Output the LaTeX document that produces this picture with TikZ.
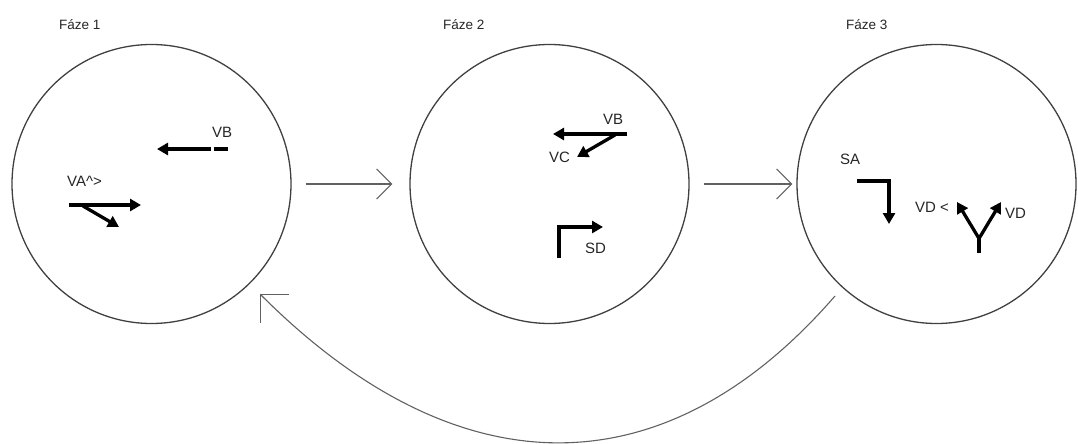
\documentclass[tikz,border=0pt]{standalone}
\usepackage{fontspec}
\setmainfont{Liberation Sans}
\usetikzlibrary{arrows.meta,calc}
\begin{document}
\begin{tikzpicture}[x=1pt,y=-1pt,
  phase/.style={circle, draw=black!75, line width=1.3pt, minimum size=279pt, inner sep=0pt},
  flow/.style={draw=black!62, line width=1.1pt, -{Straight Barb[length=15pt,width=30pt]}},
  bigflow/.style={draw=black!62, line width=1.1pt, -{Straight Barb[length=20pt,width=40pt]}},
  vec/.style={line width=3.3pt, -{Triangle[length=11pt,width=12pt]}},
  vecline/.style={line width=3.3pt},
  title/.style={font=\fontsize{13.5}{16}\selectfont, text=black!85, inner sep=0pt, anchor=base west},
  lab/.style={font=\fontsize{15}{18}\selectfont, text=black!85, inner sep=0pt, anchor=base west}]
\useasboundingbox (0,0) rectangle (1078,444);

% phases
\node[phase] (c1) at (151.5,184) {};
\node[phase] (c2) at (549.5,184) {};
\node[phase] (c3) at (936.5,184) {};

\node[title] (t1) at (59,29.5) {Fáze 1};
\node[title] (t2) at (443,29.5) {Fáze 2};
\node[title] (t3) at (846,29.5) {Fáze 3};

% transitions
\draw[flow, shorten <=14pt, shorten >=17pt] (c1) -- (c2);
\draw[flow, shorten <=14pt, shorten >=4pt] (c2) -- (c3);
\coordinate (r0) at (835,296);
\coordinate (r1) at (260,294);
\draw[bigflow] (r0) .. controls (665,492) and (458,492) .. (r1);

% phase 1 content
\draw[vec] (211,149) -- (157,149);
\draw[vecline] (213.5,149) -- (228,149);
\node[lab] (vb1) at (212,137) {VB};
\node[lab] (va1) at (67,186) {VA\^{}>};
\draw[vec] (69,205) -- (141,205);
\draw[vec] (83,206) -- (119,227);

% phase 2 content
\node[lab] (vb2) at (603,124.5) {VB};
\draw[vec] (627,134) -- (553,134);
\draw[vec] (615,135) -- (577,157);
\node[lab] (vc2) at (549,162) {VC};
\draw[vec] (559,258) -- (559,227) -- (603,227);
\node[lab] (sd2) at (585,253) {SD};

% phase 3 content
\node[lab] (sa3) at (840,164) {SA};
\draw[vec] (857,181) -- (889,181) -- (889,224);
\node[lab] (vd3a) at (915,212.5) {VD <};
\draw[vecline] (979,253) -- (979,237);
\draw[vec] (979,238.5) -- (957,202);
\draw[vec] (979,238.5) -- (1001,202);
\node[lab] (vd3b) at (1005,218) {VD};
\end{tikzpicture}
\end{document}
